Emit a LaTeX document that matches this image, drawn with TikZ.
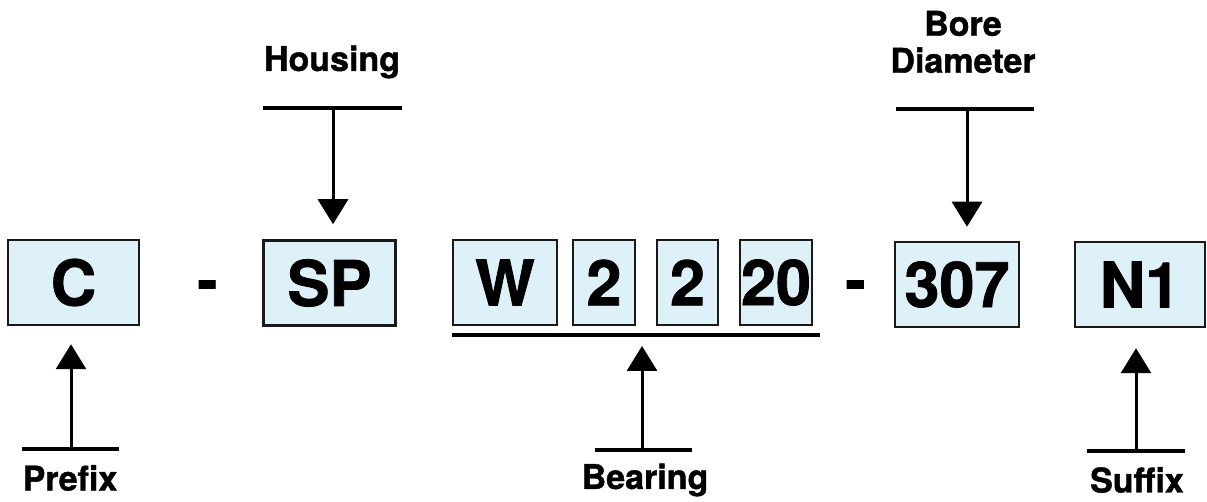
\documentclass[tikz,border=0pt]{standalone}
\usepackage{fontspec}
\setmainfont{TeX Gyre Heros}[BoldFeatures={FakeBold=1.2}]
\usepackage{xcolor}
\usetikzlibrary{arrows.meta}
\definecolor{codefill}{RGB}{222,240,248}

\begin{document}
\begin{tikzpicture}[x=1pt, y=-1pt,
    codebox/.style={draw=black!90, line width=2.5pt, fill=codefill, inner sep=0pt,
      minimum height=85pt, font=\fontsize{63}{69}\selectfont\bfseries},
    sep/.style={anchor=base, inner sep=0pt, font=\fontsize{60}{66}\selectfont\bfseries},
    lbl/.style={inner sep=0pt, align=center, font=\fontsize{34}{37}\selectfont\bfseries},
    bar/.style={line width=4pt},
    pointer/.style={line width=3pt, -{Triangle[length=25pt, width=30pt]}}]
  \useasboundingbox (0,0) rectangle (1207,502);
  % code boxes
  \node[codebox, minimum width=131pt] (pre) at (73.5,282.5) {C};
  \node[sep] (d1) at (207.5,301) {-};
  \node[codebox, minimum width=132pt] (sp) at (329.5,283) {SP};
  \node[codebox, minimum width=104pt] (w) at (505,282.5) {W};
  \node[codebox, minimum width=62pt] (ta) at (604,282.5) {2};
  \node[codebox, minimum width=61pt] (tb) at (687.5,282.5) {2};
  \node[codebox, minimum width=72pt] (tw) at (776,282.5) {20};
  \node[sep] (d2) at (855.5,301) {-};
  \node[codebox, minimum width=124pt] (bore) at (957,284.5) {307};
  \node[codebox, minimum width=130pt] (suf) at (1140,284.5) {N1};
  % bearing underline
  \draw[bar] (w.south west |- 0,335) coordinate (ul1) -- (820,335) coordinate (ul2);
  % top labels
  \node[lbl] (lhous) at (332,62) {Housing};
  \node[lbl] (lbore) at (963,42) {Bore\\Diameter};
  \draw[bar] (263,108) -- (402,108);
  \draw[bar] (896,109) -- (1034,109);
  \coordinate (hbar) at (333,108);
  \coordinate (bbar) at (967,109);
  \draw[pointer, shorten >=15pt] (hbar) -- (hbar |- sp.north);
  \draw[pointer, shorten >=14pt] (bbar) -- (bbar |- bore.north);
  % bottom labels
  \node[lbl] (lpre) at (70,478) {Prefix};
  \node[lbl] (lbea) at (645,480) {Bearing};
  \node[lbl] (lsuf) at (1137,480) {Suffix};
  \draw[bar] (22,449) -- (119,449);
  \draw[bar] (595,450) -- (692,450);
  \draw[bar] (1087,451) -- (1185,451);
  \coordinate (pbar) at (71,449);
  \coordinate (ebar) at (642,450);
  \coordinate (sbar) at (1136,451);
  \draw[pointer, shorten >=18pt] (pbar) -- (pbar |- pre.south);
  \draw[pointer, shorten >=11pt] (ebar) -- (ebar |- ul1);
  \draw[pointer, shorten >=20pt] (sbar) -- (sbar |- suf.south);
\end{tikzpicture}
\end{document}
